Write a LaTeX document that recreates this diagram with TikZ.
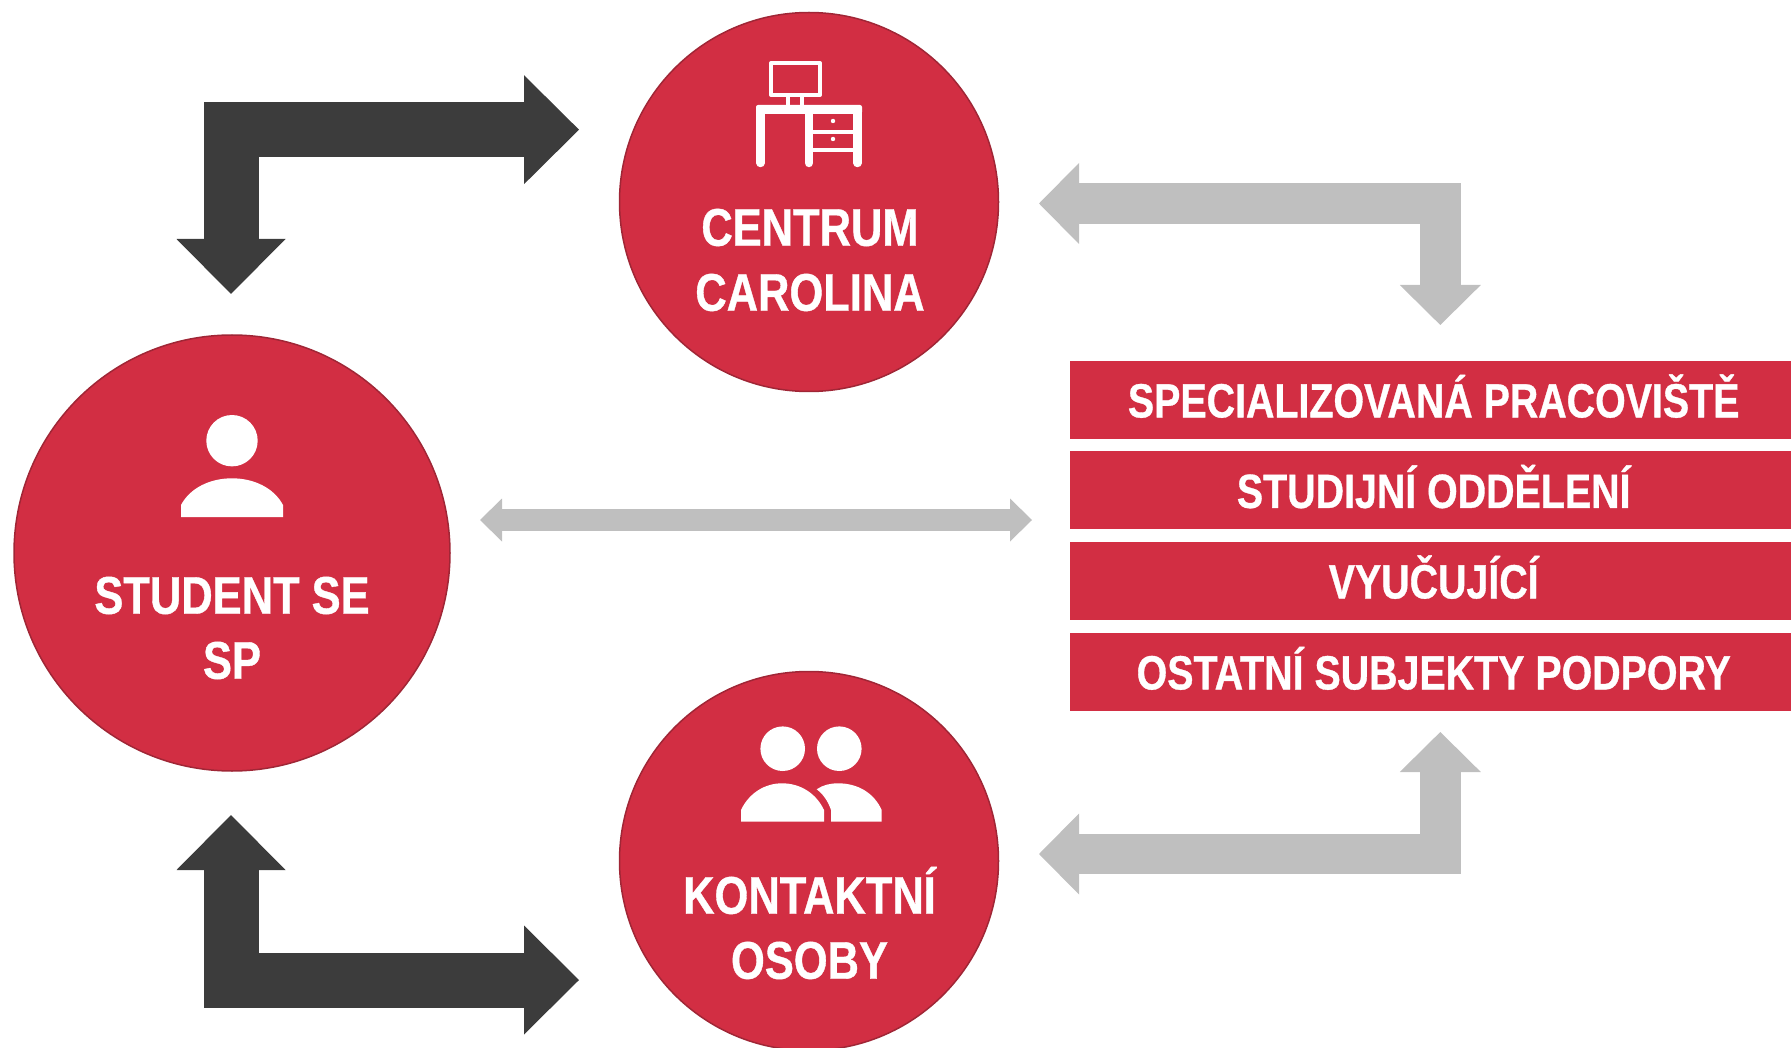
\documentclass[tikz,border=0pt]{standalone}
\usepackage{fontspec}
\usepackage{tikz}
\usetikzlibrary{arrows.meta}
\newfontfamily\lblfont[FakeStretch=0.82,FakeBold=0.7]{Liberation Sans Bold}
\definecolor{cvutred}{HTML}{D22E43}
\definecolor{cvutedge}{HTML}{A02636}
\definecolor{darkarr}{HTML}{3C3C3C}
\definecolor{grayarr}{HTML}{BFBFBF}
\tikzset{
  bigcirc/.style={circle, draw=cvutedge, line width=1.5pt, fill=cvutred, inner sep=0pt},
  barbox/.style={rectangle, fill=cvutred, text=white, minimum width=727pt, minimum height=78pt,
    inner sep=0pt, text height=35.4pt, text depth=0pt, font=\lblfont\fontsize{48}{58}\selectfont},
  circlbl/.style={text=white, inner sep=0pt, align=center, font=\lblfont\fontsize{53}{65}\selectfont},
  darkarrow/.style={draw=darkarr, line width=55pt, line join=miter,
    {Triangle[width=109pt,length=55pt,line width=0pt]}-{Triangle[width=109pt,length=55pt,line width=0pt]}},
  grayarrow/.style={draw=grayarr, line width=40.5pt, line join=miter,
    {Triangle[width=81pt,length=40pt,line width=0pt]}-{Triangle[width=81pt,length=40pt,line width=0pt]}},
  thinarrow/.style={draw=grayarr, line width=22pt,
    {Triangle[width=43pt,length=22pt,line width=0pt]}-{Triangle[width=43pt,length=22pt,line width=0pt]}},
  icon/.style={draw=white, line width=4pt, line cap=round, line join=round},
}
\begin{document}
\begin{tikzpicture}[x=1pt, y=-1pt]
\useasboundingbox (0,0) rectangle (1791,1048);

\node[bigcirc, minimum size=436pt] (student) at (232,553) {};
\node[bigcirc, minimum size=379pt] (carolina) at (809,202) {};
\begin{scope}
\clip (0,0) rectangle (1791,1048);
\node[bigcirc, minimum size=379pt] (kontakt) at (809,861) {};
\end{scope}

\begin{scope}
\clip (0,0) rectangle (1791,1048);
\node[barbox, anchor=north west] (spec) at (1070,360.5) {SPECIALIZOVANÁ PRACOVIŠTĚ};
\node[barbox, anchor=north west] (stud) at (1070,451) {STUDIJNÍ ODDĚLENÍ};
\node[barbox, anchor=north west] (vyuc) at (1070,541.5) {VYUČUJÍCÍ};
\node[barbox, anchor=north west] (osta) at (1070,632.5) {OSTATNÍ SUBJEKTY PODPORY};
\end{scope}

\node[circlbl] (carolinalbl) at (810,260) {CENTRUM\\CAROLINA};
\node[circlbl] (studentlbl) at (232,628) {STUDENT SE\\SP};
\node[circlbl] (kontaktlbl) at (809.5,923) {KONTAKTNÍ\\OSOBY};

% free ends of the block arrows
\coordinate (stop) at (231,294);
\coordinate (ctop) at (579,129.7);
\coordinate (sbot) at (231,815);
\coordinate (kbot) at (579,980);
\coordinate (cright) at (1039,203.5);
\coordinate (gtop) at (1440.3,325);
\coordinate (kright) at (1039,854);
\coordinate (gbot) at (1440.3,732);
\coordinate (sright) at (480,520);
\coordinate (gmid) at (1032,520);

\draw[darkarrow] (stop) |- (ctop);
\draw[darkarrow] (sbot) |- (kbot);
\draw[grayarrow] (cright) -| (gtop);
\draw[grayarrow] (kright) -| (gbot);
\draw[thinarrow] (sright) -- (gmid);

% desk icon
\draw[icon, line width=4pt] (771,63) rectangle (820,95);
\draw[icon, line cap=butt] (788,97) -- (788,107);
\draw[icon, line cap=butt] (802,97) -- (802,107);
\fill[white, rounded corners=2pt] (756,105) rectangle (862,114);
\draw[icon, line width=8.5pt] (760.5,110) -- (760.5,163);
\draw[icon, line width=8.5pt] (809,110) -- (809,163);
\draw[icon, line width=8.5pt] (857.5,110) -- (857.5,163);
\draw[icon, line cap=butt] (809,132) -- (857,132);
\draw[icon, line cap=butt] (809,150) -- (857,150);
\fill[white] (833,121) circle (2.2) (833,139) circle (2.2);

% person icon
\fill[white] (232,440.7) circle (25.7);
\fill[white] (181,517) -- (181,505) .. controls (190,488) and (210,478.3) .. (232,478.3)
  .. controls (254,478.3) and (274,488) .. (283,505) -- (283,517) -- cycle;

% two persons icon
\fill[white] (782.7,748.7) circle (22.3);
\fill[white] (839.3,748.7) circle (22.3);
\fill[white] (741,821.7) -- (741,810) .. controls (749,793) and (765,783.3) .. (782,783.3)
  .. controls (800,783.3) and (816,793) .. (824,810) -- (824,821.7) -- cycle;
\fill[white] (831,821.7) -- (831,810) .. controls (828,801) and (823,794) .. (816.7,789.3)
  .. controls (823,785) and (830,783.3) .. (838,783.3)
  .. controls (858,783.3) and (874,793) .. (881.7,810) -- (881.7,821.7) -- cycle;
\end{tikzpicture}
\end{document}
